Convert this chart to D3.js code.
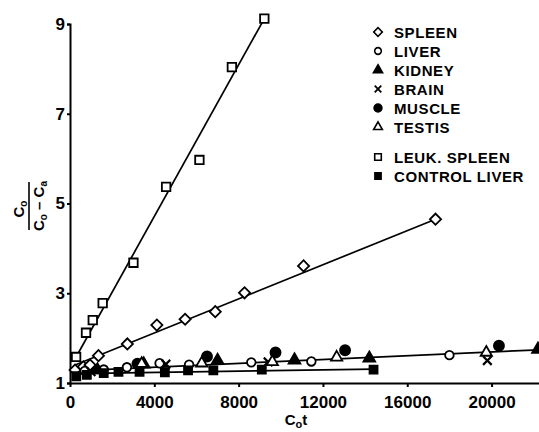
<!DOCTYPE html>
<html>
<head>
<meta charset="utf-8">
<script src="https://cdn.jsdelivr.net/npm/d3@7"></script>
<style>
  body { margin: 0; background: #fff; }
  svg { display: block; font-family: "Liberation Sans", Arial, sans-serif; font-weight: bold; }
</style>
</head>
<body>
<div id="chart"></div>
<script>
(() => {
  // values: [C0t, C0/(C0-Ca)]
  const spleen = [[240, 1.29], [630, 1.36], [950, 1.40], [1350, 1.61], [2720, 1.87], [4120, 2.29],
    [5460, 2.42], [6890, 2.59], [8280, 3.01], [11080, 3.61], [17340, 4.65]];
  const leukSpleen = [[290, 1.58], [760, 2.12], [1080, 2.40], [1550, 2.78], [3010, 3.68],
    [4560, 5.37], [6140, 5.97], [7680, 8.04], [9220, 9.12]];
  const liver = [[700, 1.27], [1600, 1.30], [2700, 1.35], [4250, 1.44], [5650, 1.41],
    [8600, 1.46], [11450, 1.48], [18000, 1.62]];
  const kidney = [[1300, 1.29], [3500, 1.42], [7000, 1.50], [10650, 1.51], [14200, 1.55], [22200, 1.75]];
  const brain = [[1000, 1.25], [4550, 1.42], [9400, 1.47], [19800, 1.50]];
  const muscle = [[3200, 1.43], [6500, 1.59], [9750, 1.68], [13050, 1.73], [20350, 1.83]];
  const testis = [[3400, 1.43], [6250, 1.44], [9600, 1.47], [12650, 1.57], [19750, 1.68]];
  const controlLiver = [[300, 1.15], [800, 1.18], [1600, 1.22], [2300, 1.25], [3300, 1.25],
    [4500, 1.24], [5600, 1.28], [6800, 1.28], [9100, 1.30], [14400, 1.30]];

  // drawn fit lines (end points)
  const leukFit = [[290, 1.58], [9220, 9.12]];
  const spleenFit = [[240, 1.40], [17340, 4.65]];
  const tissueFit = [[200, 1.27], [22250, 1.74]];
  const controlFit = [[300, 1.21], [14400, 1.31]];

  const xTicks = [0, 4000, 8000, 12000, 16000, 20000];
  const yTicks = [1, 3, 5, 7, 9];
  const legendLabels = ["SPLEEN", "LIVER", "KIDNEY", "BRAIN", "MUSCLE", "TESTIS", "LEUK. SPLEEN", "CONTROL LIVER"];

  const width = 539, height = 432;
  const svg = d3.select("#chart").append("svg")
    .attr("width", width).attr("height", height)
    .attr("viewBox", [0, 0, width, height]);

  const x = d3.scaleLinear().domain([0, 22250]).range([70, 539]);
  const y = d3.scaleLinear().domain([1, 9]).range([383, 24]);

  // marker styles, one per series
  const styles = [
    {type: d3.symbolSquare, size: 62, rot: 45, fill: "#fff"},   // spleen (diamond)
    {type: d3.symbolCircle, size: 58, rot: 0, fill: "#fff"},    // liver
    {type: d3.symbolTriangle, size: 60, rot: 0, fill: "#000"},  // kidney
    {type: d3.symbolX, size: 50, rot: 0, fill: "none"},         // brain
    {type: d3.symbolCircle, size: 80, rot: 0, fill: "#000"},    // muscle
    {type: d3.symbolTriangle, size: 55, rot: 0, fill: "#fff"},  // testis
    {type: d3.symbolSquare, size: 72, rot: 0, fill: "#fff"},    // leuk. spleen
    {type: d3.symbolSquare, size: 64, rot: 0, fill: "#000"}     // control liver
  ];
  const series = [spleen, liver, kidney, brain, muscle, testis, leukSpleen, controlLiver];

  // axes
  const xAxis = svg.append("g")
    .attr("transform", `translate(0,${y(1)})`)
    .call(d3.axisBottom(x).tickValues(xTicks).tickFormat(d3.format("d"))
      .tickSize(4).tickSizeOuter(0).tickPadding(9));
  const yAxis = svg.append("g")
    .attr("transform", `translate(${x(0)},0)`)
    .call(d3.axisLeft(y).tickValues(yTicks).tickFormat(d3.format("d"))
      .tickSize(3).tickSizeOuter(3).tickPadding(2));
  [xAxis, yAxis].forEach(a => {
    a.selectAll("path, line").attr("stroke", "#000").attr("stroke-width", 2);
    a.selectAll("text").attr("fill", "#000")
      .style("font-size", "17px").style("font-weight", "bold")
      .style("font-family", '"Liberation Sans", Arial, sans-serif');
  });

  // fit lines
  const line = d3.line().x(d => x(d[0])).y(d => y(d[1]));
  svg.append("g").selectAll("path")
    .data([leukFit, spleenFit, tissueFit, controlFit])
    .join("path")
    .attr("d", line)
    .attr("fill", "none")
    .attr("stroke", "#000")
    .attr("stroke-width", 1.7);

  // markers
  const markers = svg.append("g");
  series.forEach((pts, i) => {
    const s = styles[i];
    markers.append("g").selectAll("path")
      .data(pts)
      .join("path")
      .attr("transform", d => `translate(${x(d[0])},${y(d[1])}) rotate(${s.rot})`)
      .attr("d", d3.symbol(s.type, s.size))
      .attr("fill", s.fill)
      .attr("stroke", "#000")
      .attr("stroke-width", s.type === d3.symbolX ? 2.2 : 1.8);
  });

  // legend
  const legend = svg.append("g");
  legendLabels.forEach((label, i) => {
    const s = styles[i];
    const ly = 32 + i * 19 + (i >= 6 ? 11 : 0);
    legend.append("path")
      .attr("transform", `translate(378,${ly}) rotate(${s.rot})`)
      .attr("d", d3.symbol(s.type, s.size * 0.6))
      .attr("fill", s.fill)
      .attr("stroke", "#000")
      .attr("stroke-width", s.type === d3.symbolX ? 1.8 : 1.6);
    legend.append("text")
      .attr("x", 394)
      .attr("y", ly + 5.5)
      .style("font-size", "15px")
      .style("letter-spacing", "0.6px")
      .text(label);
  });

  // y axis label: C0 / (C0 - Ca), rotated
  const yl = svg.append("g").attr("transform", "translate(29,206) rotate(-90)");
  yl.append("line")
    .attr("x1", -24).attr("x2", 24).attr("y1", 0).attr("y2", 0)
    .attr("stroke", "#000").attr("stroke-width", 1.6);
  const num = yl.append("text").attr("x", -3).attr("y", -5)
    .attr("text-anchor", "middle").style("font-size", "15px");
  num.append("tspan").text("C");
  num.append("tspan").attr("dy", 3).style("font-size", "10px").text("o");
  const den = yl.append("text").attr("x", 0).attr("y", 15)
    .attr("text-anchor", "middle").style("font-size", "15px");
  den.append("tspan").text("C");
  den.append("tspan").attr("dy", 3).style("font-size", "10px").text("o");
  den.append("tspan").attr("dy", -3).text(" \u2013 C");
  den.append("tspan").attr("dy", 3).style("font-size", "10px").text("a");

  // x axis label: C0t
  const xl = svg.append("text").attr("x", 296).attr("y", 425)
    .attr("text-anchor", "middle").style("font-size", "15px");
  xl.append("tspan").text("C");
  xl.append("tspan").attr("dy", 3).style("font-size", "11px").text("o");
  xl.append("tspan").attr("dy", -3).text("t");
})();
</script>
</body>
</html>
